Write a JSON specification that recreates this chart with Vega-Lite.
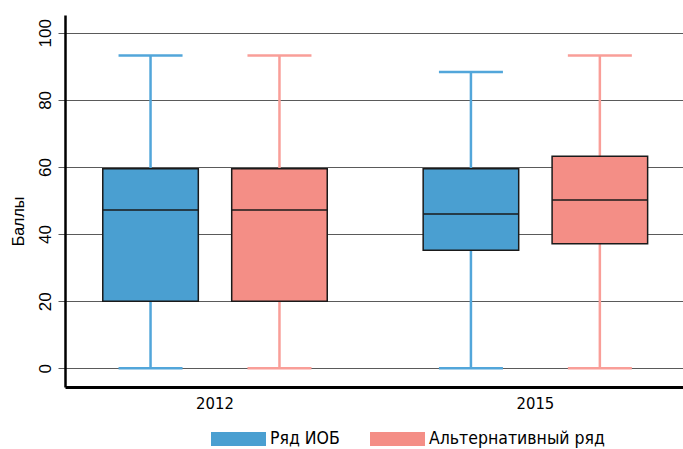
{
  "$schema": "https://vega.github.io/schema/vega-lite/v6.json",
  "width": 618,
  "height": 372,
  "autosize": {"type": "none"},
  "padding": {"left": 65, "top": 15, "right": 0, "bottom": 62},
  "background": "white",
  "config": {"view": {"stroke": null}, "font": "Liberation Sans"},
  "data": {
    "values": [
      {"year": "2012", "series": "Ряд ИОБ", "min": 0, "q1": 20, "median": 47.2, "q3": 59.5, "max": 93.2},
      {"year": "2012", "series": "Альтернативный ряд", "min": 0, "q1": 20, "median": 47.2, "q3": 59.5, "max": 93.2},
      {"year": "2015", "series": "Ряд ИОБ", "min": 0, "q1": 35.2, "median": 46, "q3": 59.5, "max": 88.3},
      {"year": "2015", "series": "Альтернативный ряд", "min": 0, "q1": 37.1, "median": 50.2, "q3": 63.2, "max": 93.2}
    ]
  },
  "encoding": {
    "x": {
      "field": "year",
      "type": "nominal",
      "scale": {"paddingInner": 0.2, "paddingOuter": 0.0682, "range": [0, 620.4]},
      "axis": {
        "title": null,
        "domainColor": "#000000",
        "domainWidth": 3,
        "ticks": false,
        "grid": false,
        "labelAngle": 0,
        "labelFont": "DejaVu Sans Condensed, Liberation Sans Narrow, Liberation Sans, sans-serif",
        "labelFontSize": 16.5,
        "labelColor": "#000000",
        "labelPadding": 8
      }
    },
    "xOffset": {
      "field": "series",
      "type": "nominal",
      "sort": ["Ряд ИОБ", "Альтернативный ряд"],
      "scale": {"paddingInner": 0.259, "paddingOuter": 0.1235}
    }
  },
  "layer": [
    {
      "mark": {"type": "rule", "strokeWidth": 2.5},
      "encoding": {
        "y": {
          "field": "min",
          "type": "quantitative",
          "title": "Баллы",
          "scale": {"domain": [-5.57, 105.3], "nice": false, "zero": false},
          "axis": {
            "values": [0, 20, 40, 60, 80, 100],
            "grid": true,
            "gridColor": "#5a5a5a",
            "gridWidth": 1,
            "domainColor": "#000000",
            "domainWidth": 2.5,
            "tickColor": "#5a5a5a",
            "tickSize": 7,
            "labelAngle": -90,
            "labelAlign": "center",
            "labelBaseline": "middle",
            "labelPadding": 13,
            "labelFontSize": 17,
            "labelColor": "#000000",
            "labelFont": "Liberation Sans",
            "title": "Баллы",
            "titleFont": "Liberation Sans",
            "titleFontSize": 16,
            "titleFontWeight": "normal",
            "titleColor": "#000000",
            "titleAngle": -90,
            "titleX": -47,
            "titleY": 206,
            "titleAlign": "center",
            "titleBaseline": "middle"
          }
        },
        "y2": {"field": "max"},
        "color": {
          "field": "series",
          "type": "nominal",
          "scale": {"domain": ["Альтернативный ряд", "Ряд ИОБ"], "range": ["#f99e98", "#52a6da"]},
          "legend": null
        }
      }
    },
    {
      "mark": {"type": "tick", "thickness": 2.5, "size": 64, "opacity": 1},
      "encoding": {
        "y": {"field": "max", "type": "quantitative", "title": "Баллы"},
        "color": {"field": "series", "type": "nominal", "legend": null}
      }
    },
    {
      "mark": {"type": "tick", "thickness": 2.5, "size": 64, "opacity": 1},
      "encoding": {
        "y": {"field": "min", "type": "quantitative", "title": "Баллы"},
        "color": {"field": "series", "type": "nominal", "legend": null}
      }
    },
    {
      "mark": {"type": "bar", "stroke": "#1a1a1a", "strokeWidth": 1.5, "opacity": 1},
      "encoding": {
        "y": {"field": "q1", "type": "quantitative", "title": "Баллы"},
        "y2": {"field": "q3"},
        "fill": {
          "field": "series",
          "type": "nominal",
          "scale": {"domain": ["Ряд ИОБ", "Альтернативный ряд"], "range": ["#4a9fd1", "#f48e86"]},
          "legend": {
            "orient": "none",
            "legendX": 146,
            "legendY": 396.5,
            "direction": "horizontal",
            "title": null,
            "symbolType": "M-1,-0.2545H1V0.2545H-1Z",
            "symbolSize": 3025,
            "symbolStrokeWidth": 0,
            "symbolOpacity": 1,
            "labelFont": "DejaVu Sans Condensed, Liberation Sans Narrow, Liberation Sans, sans-serif",
            "labelFontSize": 17.5,
            "labelColor": "#000000",
            "labelLimit": 400,
            "labelOffset": 4,
            "columnPadding": 30,
            "padding": 0
          }
        }
      }
    },
    {
      "mark": {"type": "tick", "color": "#1a1a1a", "thickness": 1.5, "size": 95.5, "opacity": 1},
      "encoding": {
        "y": {"field": "median", "type": "quantitative", "title": "Баллы"}
      }
    }
  ]
}
